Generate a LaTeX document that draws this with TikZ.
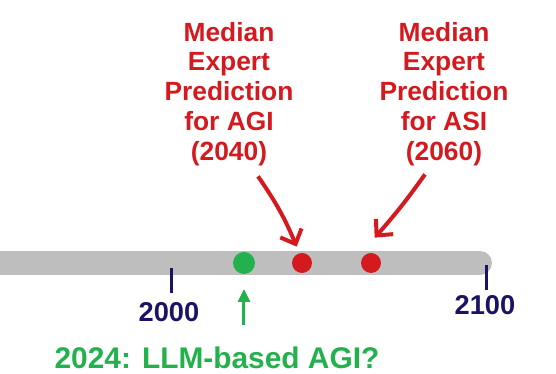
\documentclass[tikz,border=0pt]{standalone}
\usepackage{fontspec}
\setmainfont{Liberation Sans}
\usetikzlibrary{arrows.meta,calc}
\definecolor{barline}{HTML}{BEBEBE}
\definecolor{predred}{HTML}{D41A1F}
\definecolor{nowgreen}{HTML}{22B14C}
\definecolor{tickblue}{HTML}{1B1464}

\begin{document}
\begin{tikzpicture}[x=0.02cm,y=-0.02cm,
  prediction/.style={text=predred,align=center,inner sep=0pt,
    font=\fontsize{15}{17}\selectfont\bfseries},
  year/.style={text=tickblue,inner sep=0pt,font=\fontsize{15.5}{18}\selectfont\bfseries},
  dot/.style={circle,inner sep=0pt,minimum size=0.4cm},
  tickmark/.style={draw=tickblue,line width=0.06cm},
  predarrow/.style={draw=predred,line width=0.08cm,
    -{Straight Barb[length=2.4mm,width=4.6mm]}},
  nowarrow/.style={draw=nowgreen,line width=0.06cm,
    -{Triangle[length=2.6mm,width=2.4mm]}}
]
\useasboundingbox (0,0) rectangle (556,374);
\begin{scope}
  \clip (0,0) rectangle (556,374);
  \draw[barline,line width=0.48cm,line cap=round] (-30,263) -- (480,263);
\end{scope}

% ticks and years
\coordinate (t2000) at (172,268);
\coordinate (t2100) at (487,265);
\draw[tickmark] (t2000) -- ++(0,25);
\draw[tickmark] (t2100) -- ++(0,25);
\node[year] (y2000) at (169,312) {2000};
\node[year] (y2100) at (485,305) {2100};

% points on the line
\node[dot,fill=nowgreen,minimum size=0.44cm] (now) at (244,263) {};
\node[dot,fill=predred] (agi) at (302,263) {};
\node[dot,fill=predred] (asi) at (371,263) {};

\node[prediction] (agilabel) at (229,94)
  {Median\\Expert\\Prediction\\for AGI\\(2040)};
\node[prediction] (asilabel) at (444,94)
  {Median\\Expert\\Prediction\\for ASI\\(2060)};

\node[text=nowgreen,inner sep=0pt,font=\fontsize{17}{20}\selectfont\bfseries]
  (nowlabel) at (217,358) {2024: LLM-based AGI?};

\draw[predarrow] ($(agilabel.south)+(29,10)$) to[bend left=6] ($(agi.north west)+(2,-9)$);
\draw[predarrow] ($(asilabel.south)+(-19,8)$) to[bend left=3] ($(asi.north west)+(11,-18)$);
\coordinate (nowbase) at (244,325);
\draw[nowarrow] (nowbase) -- (now.south |- 0,289);
\end{tikzpicture}
\end{document}
